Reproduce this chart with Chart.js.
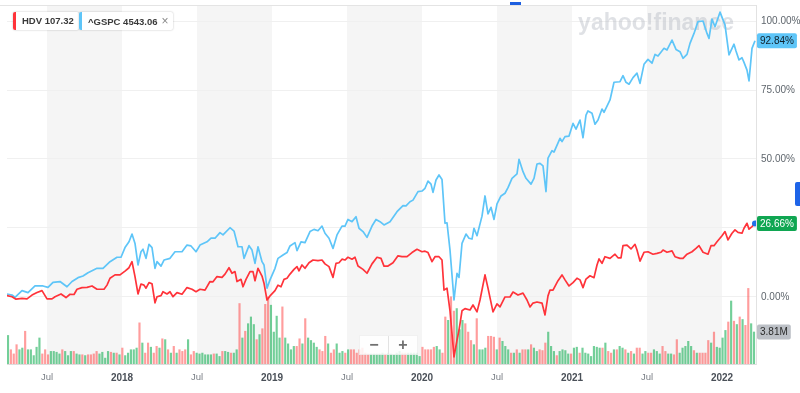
<!DOCTYPE html>
<html><head><meta charset="utf-8">
<script src="https://cdn.jsdelivr.net/npm/chart.js@4.4.0/dist/chart.umd.min.js"></script>
<style>
html,body{margin:0;padding:0;background:#fff;}
#wrap{position:relative;width:800px;height:393px;overflow:hidden;font-family:"Liberation Sans",Arial,sans-serif;}
#wrap canvas{position:absolute;left:0;top:0;}
.leg{position:absolute;top:12px;height:18px;background:#fff;box-shadow:0 0 2px rgba(0,0,0,0.28);border-radius:2px;font-size:9.5px;font-weight:bold;color:#3a3a3a;line-height:18px;padding:0 5px 0 9px;white-space:nowrap;z-index:2;}
.leg i{position:absolute;left:0;top:0;bottom:0;width:3px;border-radius:2px 0 0 2px;}
.leg .x{font-weight:normal;color:#8a8a8a;font-size:12px;margin-left:4px;}
#zoomctl{position:absolute;left:359px;top:335px;width:57px;height:18px;background:rgba(255,255,255,0.85);border:1px solid rgba(0,0,0,0.05);z-index:2;display:flex;}
#zoomctl span{flex:1;text-align:center;font-size:16px;line-height:18px;font-weight:bold;color:#707070;}
#zoomctl span+span{border-left:1px solid #e2e2e2;}
#topdash{position:absolute;left:510px;top:2px;width:11px;height:3px;background:#1d5fe0;z-index:2;}
#sidetab{position:absolute;left:795px;top:182px;width:5px;height:24px;background:#1e64e8;border-radius:2px 0 0 2px;z-index:2;}
</style></head>
<body>
<div id="wrap">
<canvas id="c" width="800" height="393"></canvas>
<div class="leg" style="left:13px;"><i style="background:#ff333a"></i>HDV 107.32</div>
<div class="leg" style="left:79px;"><i style="background:#5ec5f8"></i>^GSPC 4543.06<span class="x">×</span></div>
<div id="zoomctl"><span>−</span><span>+</span></div>
<div id="topdash"></div>
<div id="sidetab"></div>
</div>
<script>
// x values are months since 2017-01-01
const xTickMonths = [6,12,18,24,30,36,42,48,54,60];
const xTickLabels = ['Jul','2018','Jul','2019','Jul','2020','Jul','2021','Jul','2022'];
const yTickValues = [0,25,50,75,100];
const shadedStarts = [6,18,30,42,54]; // Jul..Jan half-years

const spxDates = [
2.80,3.20,3.44,4.00,4.48,5.04,5.68,6.08,6.48,7.04,
7.60,8.00,8.48,8.88,9.28,10.00,10.48,11.04,11.60,11.92,
12.24,12.56,12.80,13.04,13.28,13.52,13.68,13.92,14.16,14.40,
14.64,14.80,15.12,15.36,15.84,16.24,16.80,17.20,17.52,17.92,
18.24,18.80,19.12,19.44,19.84,20.08,20.64,20.96,21.28,21.60,
21.76,22.16,22.40,22.64,22.88,23.20,23.36,23.60,23.84,24.24,
24.48,24.88,25.20,25.44,25.84,26.00,26.32,26.64,27.04,27.36,
27.68,28.00,28.24,28.56,28.88,29.20,29.60,29.84,30.08,30.40,
30.72,30.96,31.28,31.60,32.00,32.32,32.64,32.96,33.44,34.00,
34.48,34.72,35.04,35.28,35.68,36.00,36.24,36.48,36.72,36.88,
37.12,37.36,37.60,37.84,38.00,38.24,38.56,38.80,38.96,39.20,
39.52,39.76,40.00,40.16,40.40,40.80,41.04,41.28,41.52,41.76,
42.00,42.32,42.64,42.88,43.20,43.60,43.76,44.08,44.32,44.72,
44.96,45.20,45.44,45.68,45.92,46.08,46.40,46.56,47.04,47.20,
47.44,47.76,48.08,48.32,48.64,48.88,49.12,49.28,49.60,49.84,
50.08,50.40,50.56,51.04,51.36,51.84,52.08,52.32,52.56,52.88,
53.20,53.44,53.76,54.08,54.40,54.64,54.88,55.36,55.60,56.00,
56.32,56.64,56.88,57.20,57.44,57.76,58.08,58.48,58.80,58.96,
59.20,59.44,59.84,60.24,60.56,60.96,61.12,61.36,61.60,61.76,
62.00,62.16,62.40,62.64];
const spxValues = [
1.1,0.7,-0.1,2.3,1.6,4.0,4.0,3.5,5.3,5.6,
3.7,5.6,7.0,7.6,8.8,10.4,10.4,12.8,14.4,14.4,
17.9,20.0,22.8,19.4,11.6,16.4,17.3,14.0,19.1,17.9,
10.4,12.8,11.2,13.4,14.0,16.4,16.4,18.8,18.5,16.4,
18.8,20.0,21.3,21.3,23.3,22.5,25.1,23.9,18.2,18.2,
14.0,18.6,17.0,12.2,18.2,12.8,11.6,3.2,6.2,10.4,
14.0,15.2,16.1,18.5,19.7,16.8,20.0,19.7,23.7,24.5,
24.0,25.7,23.1,21.3,17.6,22.5,25.7,25.7,28.1,27.3,
29.1,24.9,23.7,21.6,25.7,28.1,27.3,26.1,27.3,30.9,
33.1,33.0,34.5,35.1,38.2,38.4,39.4,42.0,40.9,37.9,
42.4,44.2,42.6,26.7,26.9,17.0,-1.1,8.6,7.1,19.4,
22.8,21.3,21.0,24.9,22.2,29.3,36.6,30.1,32.5,28.1,
33.7,36.6,37.6,39.6,43.0,44.6,49.9,45.4,43.0,40.9,
43.0,48.2,48.4,47.5,38.2,50.3,53.0,52.5,57.5,56.3,
58.1,58.3,62.9,60.8,64.1,57.7,65.9,67.4,66.6,62.6,
64.1,68.1,66.9,71.4,77.8,78.0,80.2,77.8,77.1,79.5,
81.1,77.4,84.3,86.1,84.7,87.9,87.3,90.1,89.5,93.1,
89.7,88.9,86.5,87.9,91.9,95.5,99.8,100.0,95.5,93.7,
100.7,97.9,103.2,98.6,87.7,91.6,89.1,85.9,86.7,85.0,
82.2,78.3,90.1,92.84];

const hdvDates = [
2.80,3.20,3.52,4.00,4.40,4.80,5.20,5.60,6.00,6.40,
6.64,7.12,7.52,7.84,8.16,8.40,8.80,9.20,9.60,10.00,
10.56,10.80,11.04,11.44,11.84,12.24,12.56,12.80,13.04,13.28,
13.52,13.76,13.92,14.16,14.40,14.64,14.80,15.12,15.28,15.60,
15.84,16.08,16.40,16.80,17.20,17.60,17.92,18.24,18.64,19.04,
19.28,19.60,20.00,20.24,20.56,20.80,21.04,21.20,21.52,21.68,
21.92,22.24,22.48,22.64,22.88,23.20,23.36,23.60,23.84,24.24,
24.48,24.72,24.96,25.20,25.44,25.76,26.00,26.16,26.40,26.64,
26.96,27.28,27.68,28.00,28.24,28.56,28.88,29.12,29.36,29.60,
29.84,30.08,30.40,30.64,30.88,31.28,31.60,32.00,32.40,32.72,
32.96,33.28,33.68,34.08,34.40,34.80,35.20,35.60,36.00,36.24,
36.48,36.80,37.04,37.36,37.60,37.76,38.00,38.24,38.56,38.80,
38.96,39.20,39.44,39.84,40.08,40.40,40.64,41.04,41.28,41.68,
42.00,42.24,42.64,43.04,43.28,43.68,44.08,44.40,44.64,44.88,
45.20,45.60,45.84,46.08,46.24,46.48,46.88,47.20,47.44,47.76,
48.08,48.40,48.64,48.88,49.12,49.44,49.76,50.00,50.16,50.40,
50.64,51.04,51.44,51.68,51.92,52.08,52.40,52.72,53.04,53.20,
53.44,53.76,54.08,54.48,54.80,55.12,55.28,55.60,56.00,56.24,
56.64,56.88,57.20,57.60,57.92,58.16,58.48,58.88,59.12,59.36,
59.60,60.00,60.24,60.48,60.80,61.04,61.28,61.60,61.76,62.00,
62.16,62.40,62.64];
const hdvValues = [
0.5,0.1,-0.8,-0.5,-0.7,0.7,1.6,2.3,-0.7,-0.7,
0.1,1.1,-0.2,1.0,0.9,2.8,3.4,3.5,4.0,2.8,
2.8,4.3,6.8,8.0,8.0,9.4,10.6,12.8,7.4,1.1,
4.7,4.3,3.2,5.2,4.8,-2.1,0.1,0.5,1.9,1.1,
1.9,0.1,1.6,1.0,3.4,2.8,1.9,2.8,2.5,5.6,
5.5,7.4,7.1,8.3,10.6,8.6,9.2,5.6,6.4,3.7,
6.4,9.2,9.2,5.9,10.4,7.6,5.0,-1.1,0.4,2.3,
4.3,3.7,6.4,6.8,8.3,10.0,11.0,9.5,11.6,10.4,
12.4,13.4,13.2,13.4,12.0,11.0,7.1,12.2,12.4,13.7,
13.4,14.4,13.7,14.4,11.2,10.0,8.6,12.0,14.4,14.0,
11.2,11.2,12.4,14.9,14.6,14.6,16.1,17.3,16.4,16.6,
16.1,12.8,14.6,14.6,13.4,2.5,3.2,-5.0,-21.7,-15.6,
-12.0,-5.0,-4.2,-4.7,-2.9,-5.4,-1.1,8.0,3.2,-5.4,
-2.5,-3.6,0.0,0.0,1.8,0.7,1.4,-1.1,-3.6,-2.2,
-1.8,-2.2,-6.5,0.4,2.5,2.5,5.9,8.0,6.2,4.0,
5.2,6.8,6.2,3.4,6.5,7.7,7.0,11.6,13.8,12.2,
14.6,14.0,15.5,14.2,14.2,18.6,18.8,17.4,19.1,17.0,
13.0,16.2,16.4,15.5,15.8,16.2,17.0,16.2,16.7,14.6,
14.0,14.0,15.5,16.4,17.6,18.6,16.2,15.5,18.6,18.6,
20.0,22.2,23.7,20.7,23.1,24.3,23.4,23.1,24.9,26.7,
24.6,25.5,26.66];

// weekly HDV volume in millions, first week ~ 2017-03-27, last week ~ 2022-03-18
const volFirstMonth = 2.88, volLastMonth = 62.56;
const volumes = [
3.4,1.7,1.2,2.3,1.7,1.9,3.9,1.7,1.7,1.0,
2.0,3.1,1.2,1.7,1.1,1.5,1.5,1.4,1.2,1.7,
1.5,1.0,1.5,1.5,1.2,1.1,1.1,1.0,1.1,1.1,
1.2,1.5,1.2,1.4,0.7,1.5,1.4,1.3,1.3,1.1,
1.9,1.0,1.3,1.7,1.7,1.9,4.9,2.5,1.3,2.5,
2.0,1.3,2.1,1.9,3.0,2.9,1.7,1.3,2.1,1.3,
1.7,1.5,1.7,2.9,1.1,1.5,1.3,1.2,1.3,1.1,
1.1,1.1,1.2,1.2,0.9,1.5,1.5,1.4,1.3,1.3,
1.7,7.2,3.1,3.9,4.8,5.6,4.7,2.9,3.5,4.2,
7.1,8.0,7.0,3.8,5.7,3.1,6.8,3.1,2.4,1.7,
2.1,2.1,3.0,2.4,5.4,3.1,2.8,2.5,2.0,1.7,
1.5,3.3,2.4,1.3,1.7,2.4,1.3,1.5,1.3,1.7,
1.7,1.7,1.3,1.7,1.9,1.3,1.2,1.2,1.2,1.2,
1.2,1.3,1.2,1.3,1.2,1.1,1.3,1.5,
1.3,1.3,1.3,1.3,1.3,1.3,0.9,2.0,1.7,1.7,
1.7,2.0,2.1,1.7,1.3,5.6,5.2,8.0,6.3,6.6,
4.1,5.2,4.8,3.8,2.8,2.3,5.4,1.7,1.7,1.9,
3.3,3.3,3.2,1.7,3.1,2.7,2.1,1.7,1.3,1.3,
1.7,1.3,1.7,1.7,1.7,2.3,1.9,1.5,1.7,1.6,
2.5,3.8,2.1,1.5,1.0,1.5,1.7,1.6,1.2,1.2,
1.9,2.0,1.3,1.9,1.3,1.2,0.9,2.1,2.0,1.9,
1.9,2.5,1.5,1.3,1.7,1.7,2.1,1.9,1.7,1.3,
1.5,1.2,1.9,1.9,1.2,1.5,1.3,1.3,1.7,1.5,
1.2,2.1,1.5,1.2,1.2,1.1,2.9,1.3,1.9,2.1,
2.7,2.1,1.6,1.3,1.3,1.3,1.3,2.8,2.5,3.8,
2.0,1.9,3.1,4.0,5.0,7.5,5.1,4.7,5.6,5.3,
4.6,9.0,4.8,3.81];
// 1 = up week (green), 0 = down week (red)
const volUp = [
1,0,0,0,1,1,0,1,1,1, 1,1,0,0,0,1,1,1,1,0, 1,1,1,0,1,1,0,1,0,0, 0,0,1,1,1,1,0,1,0,1,
0,1,1,1,1,1,0,1,0,0, 1,0,0,1,0,1,0,1,0,1, 0,0,0,1,0,0,1,1,1,1, 1,1,0,1,1,0,1,1,0,1,
1,0,1,0,1,1,1,0,1,0, 0,0,1,1,1,1,0,1,1,1, 1,0,0,1,0,1,1,1,1,0, 0,0,1,0,0,1,1,1,0,1,
0,0,0,0,0,0,0,1,1,1, 1,1,0,1,1,1,1,1,
0,0,1,1,1,1,1,0,0,0, 0,0,1,1,0,0,1,0,0,1, 1,1,0,0,0,1,0,1,1,1, 0,0,0,1,0,1,1,1,0,1,
0,1,0,0,1,0,1,1,0,0, 0,1,1,1,0,1,1,1,1,0, 1,1,0,1,1,1,1,1,1,1, 0,1,0,0,1,0,1,1,0,1,
0,1,0,0,1,1,0,0,1,1, 1,0,0,1,1,0,0,1,1,1, 1,1,0,1,0,0,0,0,1,0, 1,1,1,1,0,1,0,1,0,1,
0,0,1,1];

const FONT = '"Liberation Sans", Arial, sans-serif';
const volStep = (volLastMonth - volFirstMonth) / (volumes.length - 1);
const volPoints = volumes.map((v,i)=>({x: volFirstMonth + i*volStep, y: v}));
const spxPoints = spxDates.map((d,i)=>({x:d, y:spxValues[i]}));
const hdvPoints = hdvDates.map((d,i)=>({x:d, y:hdvValues[i]}));

function rrect(ctx,x,y,w,h,r){ctx.beginPath();ctx.moveTo(x+r,y);ctx.lineTo(x+w-r,y);ctx.quadraticCurveTo(x+w,y,x+w,y+r);ctx.lineTo(x+w,y+h-r);ctx.quadraticCurveTo(x+w,y+h,x+w-r,y+h);ctx.lineTo(x+r,y+h);ctx.quadraticCurveTo(x,y+h,x,y+h-r);ctx.lineTo(x,y+r);ctx.quadraticCurveTo(x,y,x+r,y);ctx.closePath();}

const deco = {
  id:'deco',
  beforeDraw(chart){
    const {ctx, chartArea:a, scales:{x}} = chart;
    ctx.save();
    ctx.fillStyle = '#f5f5f5';
    shadedStarts.forEach(s=>{
      const x0 = Math.max(a.left, x.getPixelForValue(s));
      const x1 = Math.min(a.right, x.getPixelForValue(s+6));
      ctx.fillRect(x0, a.top, x1-x0, a.bottom-a.top);
    });
    ctx.strokeStyle = '#e4e4e4'; ctx.lineWidth = 1;
    ctx.beginPath(); ctx.moveTo(0, a.top+0.5); ctx.lineTo(a.right, a.top+0.5); ctx.stroke();
    ctx.restore();
  },
  beforeDatasetsDraw(chart){
    const {ctx, chartArea:a} = chart;
    ctx.save();
    ctx.font = 'bold 23px ' + FONT;
    ctx.fillStyle = 'rgba(170,176,186,0.38)';
    ctx.textAlign = 'right'; ctx.textBaseline = 'alphabetic';
    ctx.fillText('yahoo!finance', a.right-22, a.top+25, 158);
    ctx.restore();
  },
  afterDraw(chart){
    const {ctx, chartArea:a, scales} = chart;
    const items = [
      {axis:'y', v: spxValues[spxValues.length-1], t: spxValues[spxValues.length-1].toFixed(2)+'%', bg:'#5ec5f8', fg:'#10202a'},
      {axis:'y', v: hdvValues[hdvValues.length-1], t: hdvValues[hdvValues.length-1].toFixed(2)+'%', bg:'#10a652', fg:'#ffffff'},
      {axis:'yVol', v: volumes[volumes.length-1], t: volumes[volumes.length-1].toFixed(2)+'M', bg:'#bcc0c6', fg:'#2a2a2a'}
    ];
    ctx.save();
    ctx.font = '10px ' + FONT;
    ctx.textBaseline = 'middle'; ctx.textAlign = 'left';
    items.forEach(it=>{
      const y = scales[it.axis].getPixelForValue(it.v);
      const w = ctx.measureText(it.t).width + 6;
      ctx.fillStyle = it.bg;
      rrect(ctx, a.right+1, y-7.5, w, 15, 2); ctx.fill();
      ctx.fillStyle = it.fg;
      ctx.fillText(it.t, a.right+4, y+0.5);
    });
    ctx.restore();
  }
};

new Chart(document.getElementById('c'), {
  type:'line',
  data:{datasets:[
    {type:'line', label:'HDV', data:hdvPoints, borderColor:'#ff333a', borderWidth:1.7, tension:0,
     pointRadius:(c)=>c.dataIndex===hdvPoints.length-1?3:0, pointBackgroundColor:'#1f6fe8', pointBorderWidth:0,
     yAxisID:'y', order:1, borderJoinStyle:'round'},
    {type:'line', label:'^GSPC', data:spxPoints, borderColor:'#5ec5f8', borderWidth:1.7, tension:0, pointRadius:0,
     yAxisID:'y', order:2, borderJoinStyle:'round'},
    {type:'bar', label:'Volume', data:volPoints, yAxisID:'yVol', order:3, barThickness:1.5,
     backgroundColor: volUp.map(u=>u ? 'rgba(0,168,70,0.55)' : 'rgba(255,60,60,0.5)'), borderWidth:0}
  ]},
  options:{
    responsive:false, animation:false, events:[],
    layout:{padding:{left:7, top:5, right:0, bottom:0}},
    plugins:{legend:{display:false}, tooltip:{enabled:false}},
    scales:{
      x:{type:'linear', min:2.80, max:62.72, offset:false,
        afterBuildTicks(s){ s.ticks = xTickMonths.map(v=>({value:v})); },
        afterFit(s){ s.height = 29; s.paddingLeft = 0; s.paddingRight = 0; },
        grid:{display:false, drawTicks:false, offset:false},
        border:{display:true, color:'#dcdcdc'},
        ticks:{padding:8, maxRotation:0, autoSkip:false,
          callback:(v)=>xTickLabels[xTickMonths.indexOf(v)],
          font:(c)=>{ const l = c.tick ? xTickLabels[xTickMonths.indexOf(c.tick.value)] : ''; return l==='Jul' ? {family:FONT, size:9.5} : {family:FONT, size:10, weight:'bold'}; },
          color:(c)=>{ const l = c.tick ? xTickLabels[xTickMonths.indexOf(c.tick.value)] : ''; return l==='Jul' ? '#7b8087' : '#4a5058'; }
        }
      },
      y:{type:'linear', position:'right', min:-24.28, max:105.8,
        afterBuildTicks(s){ s.ticks = yTickValues.map(v=>({value:v})); },
        afterFit(s){ s.width = 44; s.paddingTop = 0; s.paddingBottom = 0; },
        grid:{color:'#f0f0f0', drawTicks:false},
        border:{display:true, color:'#e2e2e2'},
        ticks:{padding:5, font:{family:FONT, size:10}, color:'#5f666d', callback:(v)=>v.toFixed(2)+'%'}
      },
      yVol:{type:'linear', display:false, min:0, max:42.74}
    }
  },
  plugins:[deco]
});
</script>
</body></html>
